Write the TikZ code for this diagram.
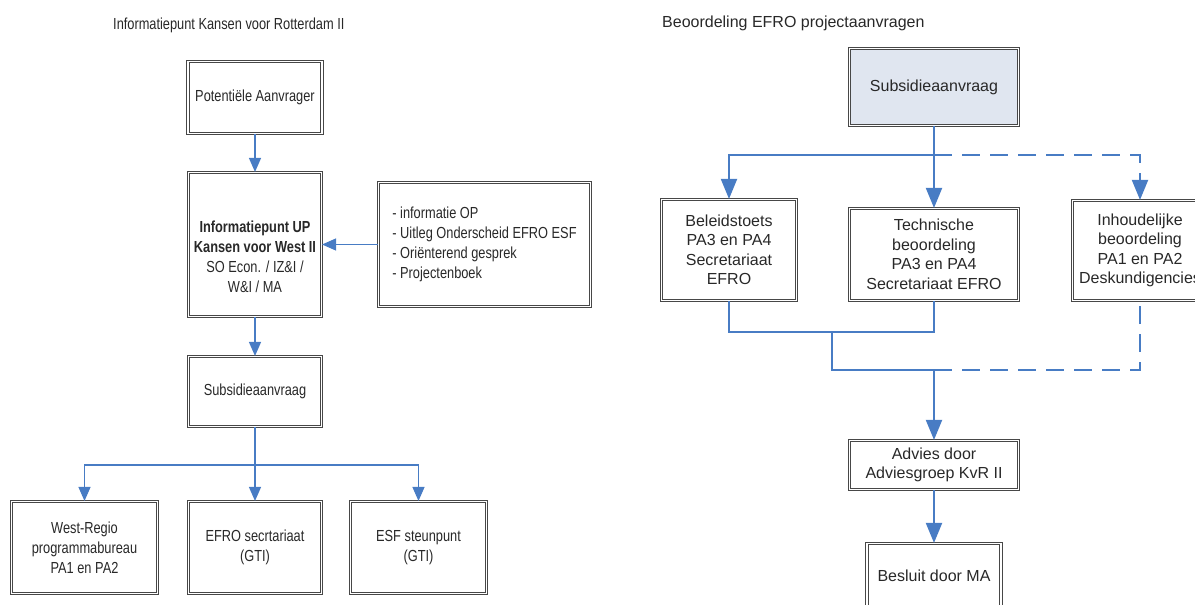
\documentclass[tikz,border=0pt]{standalone}
\usepackage{fontspec}
\setmainfont{Liberation Sans}
\newfontfamily\nf{Liberation Sans}[FakeStretch=0.8]
\usetikzlibrary{arrows.meta}
\definecolor{lblue}{RGB}{72,124,196}
\definecolor{boxfill}{RGB}{224,230,240}
\definecolor{txt}{RGB}{40,40,40}
\tikzset{
  box/.style={draw=black!72, line width=1.1pt, double=white, double distance=1.6pt,
    inner sep=1pt, align=center, text=txt},
  lfnt/.style={font=\nf\fontsize{16}{20}\selectfont},
  rfnt/.style={font=\fontsize{16}{19.5}\selectfont},
  lline/.style={draw=lblue, line width=1.3pt},
  larrow/.style={lline, -{Triangle[length=14pt,width=12pt]}},
  rline/.style={draw=lblue, line width=2pt},
  rarrow/.style={rline, -{Triangle[length=20pt,width=16pt]}},
  dsh/.style={dash pattern=on 18pt off 10pt}
}
\begin{document}
\begin{tikzpicture}[x=1pt,y=-1pt]
\useasboundingbox (0,0) rectangle (1195,605);
\clip (0,0) rectangle (1195,605);
% titles
\node[lfnt, anchor=west, inner sep=0pt, text=txt] (ltitle) at (113,25) {Informatiepunt Kansen voor Rotterdam II};
\node[rfnt, anchor=west, inner sep=0pt, text=txt] (rtitle) at (662,23) {Beoordeling EFRO projectaanvragen};

% left diagram
\node[box, lfnt, minimum width=134pt, minimum height=72pt] (pot) at (255,97.5) {Potenti\"ele Aanvrager};
\node[box, minimum width=133pt, minimum height=144pt] (ip) at (255,244.5) {};
\node[lfnt, align=center, text=txt, inner sep=0pt] (iptext) at (255,256.5)
  {\textbf{Informatiepunt UP}\\\textbf{Kansen voor West II}\\SO Econ. / IZ\&I /\\W\&I / MA};
\node[box, lfnt, align=left, minimum width=212pt, minimum height=124pt] (info) at (484.5,244.5)
  {- informatie OP\\- Uitleg Onderscheid EFRO ESF\\- Ori\"enterend gesprek\\- Projectenboek};
\node[box, lfnt, minimum width=133pt, minimum height=70pt] (lsub) at (255,391.5) {Subsidieaanvraag};
\node[box, lfnt, minimum width=146pt, minimum height=92pt] (west) at (84.5,547.5)
  {\fontsize{16}{22}\selectfont West-Regio\\programmabureau\\PA1 en PA2};
\node[box, lfnt, minimum width=133pt, minimum height=92pt] (efro) at (255,547.5) {EFRO secrtariaat\\(GTI)};
\node[box, lfnt, minimum width=136pt, minimum height=92pt] (esf) at (418.5,547.5) {ESF steunpunt\\(GTI)};

\draw[larrow] (pot.south) -- (ip.north);
\draw[larrow] (info.west) -- (info.west -| ip.east);
\draw[larrow] (ip.south) -- (lsub.north);
\coordinate (lj) at (255,465);
\draw[lline] (lsub.south) -- (lj);
\draw[larrow] (lj) -| (west.north);
\draw[larrow] (lj) -- (efro.north);
\draw[larrow] (lj) -| (esf.north);

% right diagram
\node[box, rfnt, fill=boxfill, minimum width=169pt, minimum height=77pt] (rsub) at (934,87) {Subsidieaanvraag};
\node[box, rfnt, minimum width=135pt, minimum height=101pt] (bel) at (729,250) {Beleidstoets\\PA3 en PA4\\Secretariaat\\EFRO};
\node[box, rfnt, minimum width=169pt, minimum height=92pt] (tech) at (934,254.5) {Technische\\beoordeling\\PA3 en PA4\\Secretariaat EFRO};
\node[box, rfnt, minimum width=135pt, minimum height=100pt] (inh) at (1140,250.5) {Inhoudelijke\\beoordeling\\PA1 en PA2\\Deskundigencies};
\node[box, rfnt, minimum width=169pt, minimum height=49pt] (adv) at (934,465) {Advies door\\Adviesgroep KvR II};
\node[box, rfnt, minimum width=134pt, minimum height=65pt] (bes) at (934,576) {Besluit door MA};

\coordinate (rj) at (934,155);
\draw[rline] (rsub.south) -- (rj);
\draw[rarrow] (rj) -| (bel.north);
\draw[rarrow] (rj) -- (tech.north);
\draw[rarrow, dsh] (rj) -| (inh.north);

\coordinate (rb) at (832,332);
\coordinate (rc) at (934,370);
\draw[rline] (bel.south) |- (rb) -| (tech.south);
\draw[rline] (rb) |- (rc);
\draw[rarrow] (rc) -- (adv.north);
\draw[rline, dsh] (rc) -| (inh.south);
\draw[rarrow] (adv.south) -- (bes.north);
\end{tikzpicture}
\end{document}
